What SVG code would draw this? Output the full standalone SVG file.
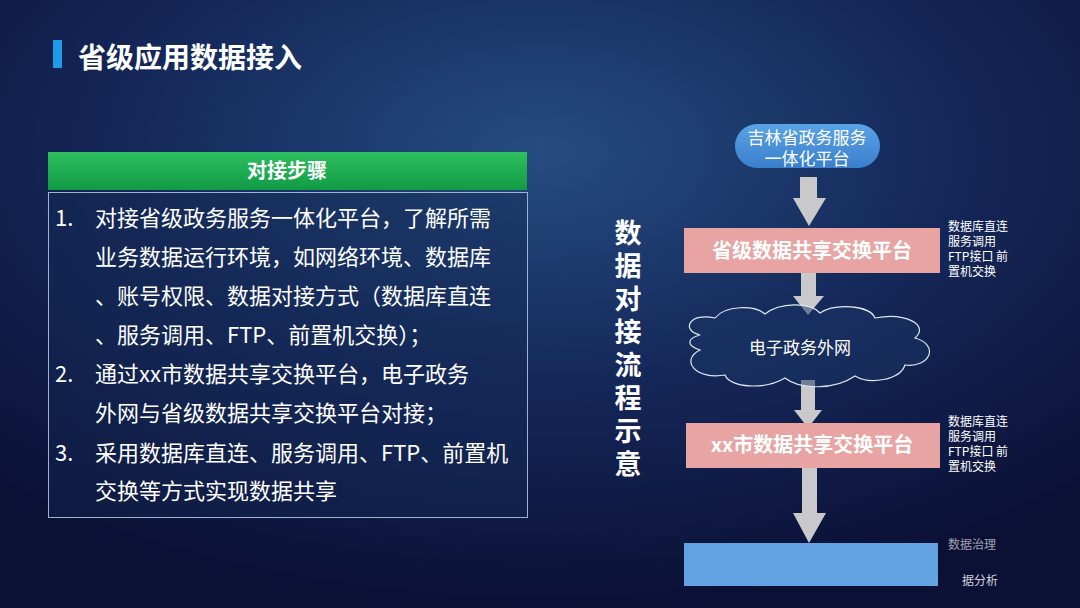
<svg xmlns="http://www.w3.org/2000/svg" width="1080" height="608" viewBox="0 0 1080 608">
<defs>
<radialGradient id="bg" cx="0.5" cy="0.25" r="0.75">
<stop offset="0" stop-color="#254c80"/><stop offset="0.5" stop-color="#15285a"/><stop offset="1" stop-color="#0b1035"/>
</radialGradient>
<linearGradient id="grn" x1="0" y1="0" x2="0" y2="1"><stop offset="0" stop-color="#2ec060"/><stop offset="1" stop-color="#119a45"/></linearGradient>
<linearGradient id="blu" x1="0" y1="0" x2="0" y2="1"><stop offset="0" stop-color="#5aa3e6"/><stop offset="1" stop-color="#3a7fcc"/></linearGradient>
<style>
.t{font-family:"Noto Sans CJK SC","Liberation Sans",sans-serif;fill:#fff}
.arr{fill:#c9c9cc}
.pink{fill:#e8a3a3}
.side{font-size:12px}
</style>
</defs>
<rect width="1080" height="608" fill="url(#bg)"/>
<rect x="53" y="40" width="9" height="28" fill="#1e9be8"/>
<text class="t" x="78" y="68" font-size="28" font-weight="bold">省级应用数据接入</text>
<g id="steps">
<rect x="48" y="152" width="479" height="38" fill="url(#grn)"/>
<text class="t" x="287" y="178" font-size="20" font-weight="bold" text-anchor="middle">对接步骤</text>
<rect x="48.5" y="192.5" width="479" height="325" fill="#132a55" fill-opacity="0.4" stroke="#9fb3cc" stroke-width="1"/>
<g class="t" font-size="22">
<text x="55" y="226">1.</text><text x="95" y="226">对接省级政务服务一体化平台，了解所需</text>
<text x="95" y="265">业务数据运行环境，如网络环境、数据库</text>
<text x="95" y="304">、账号权限、数据对接方式（数据库直连</text>
<text x="95" y="343">、服务调用、FTP、前置机交换）；</text>
<text x="55" y="382">2.</text><text x="95" y="382">通过xx市数据共享交换平台，电子政务</text>
<text x="95" y="421">外网与省级数据共享交换平台对接；</text>
<text x="55" y="461">3.</text><text x="95" y="461">采用数据库直连、服务调用、FTP、前置机</text>
<text x="95" y="499">交换等方式实现数据共享</text>
</g>
</g>
<g class="t" font-size="27" font-weight="bold" text-anchor="middle">
<text x="628" y="243">数</text><text x="628" y="276">据</text><text x="628" y="309">对</text><text x="628" y="342">接</text><text x="628" y="375">流</text><text x="628" y="408">程</text><text x="628" y="441">示</text><text x="628" y="474">意</text>
</g>
<g id="connectors">
<polygon class="arr" points="800,177 817,177 817,198 826,198 809,226 793,198 800,198"/>
<polygon class="arr" points="801,273 816,273 816,296 824,296 808,315 793,296 801,296"/>
<polygon class="arr" points="801,380 815,380 815,410 822,410 808,428 794,410 801,410"/>
<polygon class="arr" points="802,468 817,468 817,513 826,513 809,543 793,513 802,513"/>
</g>
<g id="n1">
<rect x="735" y="124" width="145" height="44" rx="22" fill="url(#blu)"/>
<text class="t" x="807" y="144" font-size="17" text-anchor="middle">吉林省政务服务</text>
<text class="t" x="807" y="165" font-size="17" text-anchor="middle">一体化平台</text>
</g>
<g id="n2">
<rect class="pink" x="684" y="228" width="256" height="45"/>
<text class="t" x="812" y="258" font-size="20" font-weight="bold" text-anchor="middle">省级数据共享交换平台</text>
<g class="t side"><text x="948" y="231">数据库直连</text><text x="948" y="246">服务调用</text><text x="948" y="261">FTP接口 前</text><text x="948" y="276">置机交换</text></g>
</g>
<g id="n3">
<path d="M700,335 C680,330 690,312 715,318 C725,305 755,305 765,314 C780,302 810,302 820,313 C835,303 870,305 875,318 C905,312 930,325 915,338 C940,345 930,368 905,365 C900,380 870,385 855,376 C835,390 800,390 785,378 C765,390 730,388 725,375 C695,380 680,360 700,350 C685,345 688,338 700,335 Z" fill="#1a3565" fill-opacity="0.5" stroke="#dfe7f2" stroke-width="1.2"/>
<text class="t" x="800" y="354" font-size="17" text-anchor="middle">电子政务外网</text>
</g>
<g id="n4">
<rect class="pink" x="686" y="423" width="254" height="45"/>
<text class="t" x="812" y="452" font-size="20" font-weight="bold" text-anchor="middle">xx市数据共享交换平台</text>
<g class="t side"><text x="948" y="426">数据库直连</text><text x="948" y="441">服务调用</text><text x="948" y="456">FTP接口 前</text><text x="948" y="471">置机交换</text></g>
</g>
<g id="n5">
<rect x="684" y="543" width="254" height="43" fill="#62a2e2"/>
<text class="t side" x="948" y="549" opacity="0.6">数据治理</text>
<text class="t side" x="962" y="585" opacity="0.8">据分析</text>
</g>
</svg>
